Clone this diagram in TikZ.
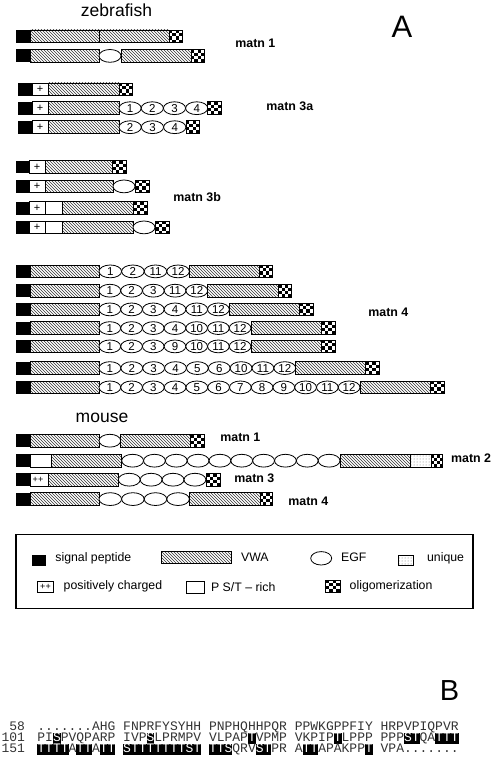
\documentclass[tikz,border=0pt]{standalone}
\usepackage{fontspec}
\setmainfont{Liberation Sans}
\newfontfamily\seqfont{Liberation Mono}
\usetikzlibrary{patterns}
\newcommand\bh{12.8}
\newcommand\dSP[3]{\fill[black] (#1,#3) rectangle (#2,{#3+\bh});}
\newcommand\dVW[3]{\draw[vwa] (#1,#3) rectangle (#2,{#3+\bh});}
\newcommand\dPS[3]{\draw[fill=white] (#1,#3) rectangle (#2,{#3+\bh});}
\newcommand\dPL[4]{\draw[fill=white] (#1,#3) rectangle (#2,{#3+\bh});
  \node[plusf] at ({(#1+#2)/2},{#3+\bh/2}) {#4};}
\newcommand\dUQ[3]{\draw[pattern=dots, pattern color=black!55] (#1,#3) rectangle (#2,{#3+\bh});}
\newcommand\dOL[3]{\fill[white] (#1,#3) rectangle (#2,{#3+\bh});
  \foreach \ci/\cj in {0/0,2/0,1/1,3/1,0/2,2/2,1/3,3/3}{\fill[black] ({#1+(#2-#1)*\ci/4},{#3+\bh*\cj/4}) rectangle ({#1+(#2-#1)*(\ci+1)/4},{#3+\bh*(\cj+1)/4});}
  \draw (#1,#3) rectangle (#2,{#3+\bh});}
\newcommand\dEG[4]{\pgfmathsetmacro\egcx{(#1)+(#2)/2}\pgfmathsetmacro\egrx{(#2)/2}\pgfmathsetmacro\egry{\bh/2}%
  \draw[fill=white] (\egcx,{#3+\bh/2}) ellipse [x radius=\egrx pt, y radius=\egry pt];
  \node[egfnum] at (\egcx,{#3+\bh/2}) {#4};}
\newcommand\egfs[4]{\foreach \eglab [count=\egi] in {#4}{\dEG{#1+(\egi-1)*#2}{#2}{#3}{\eglab}}}
\newcommand\egfn[4]{\foreach \egi in {1,...,#4}{\dEG{#1+(\egi-1)*#2}{#2}{#3}{}}}
\newcommand\hlt[3]{\node[seqhl] at ({37+#2*7.8013},#1) {#3};}
\newcommand\sg[3]{\node[seq] at ({37+#2*7.8013},#1) {#3};}
\begin{document}
\begin{tikzpicture}[x=1pt,y=-1pt,line width=0.8pt,
  vwa/.style={pattern=north west lines, pattern color=black!80},
  plusf/.style={font=\fontsize{11}{11}\selectfont, inner sep=0},
  egfnum/.style={font=\fontsize{11.5}{12}\selectfont, inner sep=0},
  lab/.style={font=\bfseries\fontsize{12.4}{14}\selectfont, anchor=west, inner sep=0},
  leg/.style={font=\fontsize{12.3}{14}\selectfont, anchor=west, inner sep=0},
  ttl/.style={font=\fontsize{17.5}{20}\selectfont, inner sep=0},
  seq/.style={font=\seqfont\fontsize{13}{13}\selectfont, anchor=base west, inner sep=0, text=black!80},
  seqhl/.style={font=\seqfont\fontsize{13}{13}\selectfont, anchor=base west, inner xsep=0, inner ysep=0, fill=black, text=white, text height=8.3pt, text depth=2.4pt}]
\useasboundingbox (0,0) rectangle (492,762);
% titles
\node[ttl] (zf) at (116.5,10) {zebrafish};
\node[font=\fontsize{31}{32}\selectfont, inner sep=0] (A) at (402,26.5) {A};
% zebrafish matn 1
\dSP{16}{30}{30} \dVW{30}{99}{30} \dVW{99}{169}{30} \dOL{169}{182}{30}
\dSP{16}{30}{49.5} \dVW{30}{99}{49.5} \dEG{99}{22}{49.5}{} \dVW{121}{191}{49.5} \dOL{191}{204}{49.5}
\node[lab] (l1) at (235,43.3) {matn 1};
% matn 3a
\dSP{18}{32}{83} \dPL{32}{48}{83}{+} \dVW{48}{119}{83} \dOL{119}{132}{83}
\dSP{18}{32}{101.8} \dPL{32}{48}{101.8}{+} \dVW{48}{119}{101.8} \egfs{119}{22.2}{101.8}{1,2,3,4} \dOL{207.8}{221}{101.8}
\dSP{18}{32}{120.8} \dPL{32}{48}{120.8}{+} \dVW{48}{119}{120.8} \egfs{119}{22.3}{120.8}{2,3,4} \dOL{186}{199}{120.8}
\node[lab] (l3a) at (266,106) {matn 3a};
% matn 3b
\dSP{16}{29}{160.7} \dPL{29}{45}{160.7}{+} \dVW{45}{112}{160.7} \dOL{112}{126}{160.7}
\dSP{16}{29}{180} \dPL{29}{45}{180}{+} \dVW{45}{113}{180} \dEG{113}{22}{180}{} \dOL{135}{149}{180}
\dSP{16}{29}{201.7} \dPL{29}{45}{201.7}{+} \dPS{45}{62}{201.7} \dVW{62}{133}{201.7} \dOL{133}{147}{201.7}
\dSP{16}{29}{221} \dPL{29}{45}{221}{+} \dPS{45}{62}{221} \dVW{62}{133}{221} \dEG{133}{22}{221}{} \dOL{155}{169}{221}
\node[lab] (l3b) at (173,197) {matn 3b};
% matn 4
\dSP{16}{30}{265} \dVW{30}{99}{265} \egfs{99}{22.6}{265}{1,2,11,12} \dVW{189.4}{259.3}{265} \dOL{259.3}{272.7}{265}
\dSP{16}{30}{284.3} \dVW{30}{99}{284.3} \egfs{99}{21.74}{284.3}{1,2,3,11,12} \dVW{207.7}{278.3}{284.3} \dOL{278.3}{291.7}{284.3}
\dSP{16}{30}{303} \dVW{30}{99}{303} \egfs{99}{21.72}{303}{1,2,3,4,11,12} \dVW{229.3}{299.3}{303} \dOL{299.3}{313}{303}
\dSP{16}{30}{321.7} \dVW{30}{99}{321.7} \egfs{99}{21.71}{321.7}{1,2,3,4,10,11,12} \dVW{251}{321}{321.7} \dOL{321}{335}{321.7}
\dSP{16}{30}{340} \dVW{30}{99}{340} \egfs{99}{21.71}{340}{1,2,3,9,10,11,12} \dVW{251}{321}{340} \dOL{321}{335}{340}
\dSP{16}{30}{361.7} \dVW{30}{99}{361.7} \egfs{99}{21.86}{361.7}{1,2,3,4,5,6,10,11,12} \dVW{295.7}{365.7}{361.7} \dOL{365.7}{379}{361.7}
\dSP{16}{30}{381} \dVW{30}{99}{381} \egfs{99}{21.75}{381}{1,2,3,4,5,6,7,8,9,10,11,12} \dVW{360}{430}{381} \dOL{430}{444.3}{381}
\node[lab] (l4) at (368,312.3) {matn 4};
% mouse
\node[ttl] (ms) at (102,417.7) {mouse};
\dSP{16}{30}{434.3} \dVW{30}{99}{434.3} \dEG{99}{21.7}{434.3}{} \dVW{120.7}{190.7}{434.3} \dOL{190.7}{204}{434.3}
\node[lab] (m1) at (220,437.7) {matn 1};
\dSP{16}{30}{454.3} \dPS{30}{51.7}{454.3} \dVW{51.7}{121.7}{454.3} \egfn{121.7}{21.83}{454.3}{10} \dVW{340}{410.7}{454.3} \dUQ{410.7}{431.7}{454.3} \dOL{431.7}{442.3}{454.3}
\node[lab] (m2) at (450.7,458.3) {matn 2};
\dSP{16}{30}{473.3} \dPS{30}{48.3}{473.3} \node[font=\fontsize{9}{9}\selectfont, inner sep=0] at (38,479.7) {++}; \dVW{48.3}{118.3}{473.3} \egfn{118.3}{21.9}{473.3}{4} \dOL{206}{220}{473.3}
\node[lab] (m3) at (234,478.3) {matn 3};
\dSP{16}{30}{492.7} \dVW{30}{99}{492.7} \egfn{99}{22.6}{492.7}{4} \dVW{189.3}{260}{492.7} \dOL{260}{272.7}{492.7}
\node[lab] (m4) at (288,501) {matn 4};
% legend
\draw[line width=1.2pt] (16,534.5) rectangle (473,608.5);
\fill[black] (32.3,555) rectangle (45.7,565.7);
\node[leg] at (55,558.5) {signal peptide};
\draw[vwa] (161,551) rectangle (231.7,563.3);
\node[leg] at (240.7,557.5) {VWA};
\draw (321.2,558.3) ellipse [x radius=10.5pt, y radius=6.7pt];
\node[leg] at (340.7,557.5) {EGF};
\draw[pattern=dots, pattern color=black!55] (398.3,555.7) rectangle (413.3,565);
\node[leg] at (426.7,558.5) {unique};
\draw[fill=white] (37.7,581) rectangle (53.3,592.3);
\node[font=\fontsize{9}{9}\selectfont, inner sep=0] at (45.5,586.7) {++};
\node[leg] at (63.3,586.7) {positively charged};
\draw[fill=white] (186,581) rectangle (204,593.3);
\node[leg] at (210.7,586.7) {P S/T – rich};
\fill[white] (325,580) rectangle (340,592.3);
\foreach \ci/\cj in {0/0,2/0,1/1,3/1,0/2,2/2,1/3,3/3}{\fill[black] ({325+15*\ci/4},{580+12.3*\cj/4}) rectangle ({325+15*(\ci+1)/4},{580+12.3*(\cj+1)/4});}
\draw (325,580) rectangle (340,592.3);
\node[leg] at (349.3,586.7) {oligomerization};
% part B
\node[font=\fontsize{29}{30}\selectfont, inner sep=0] (B) at (449.5,691) {B};
\node[seq, anchor=base east] at (25.4,730.7) {58};
\node[seq, anchor=base east] at (25.4,741.7) {101};
\node[seq, anchor=base east] at (25.4,752.7) {151};
\sg{730.7}{0}{.......AHG FNPRFYSYHH PNPHQHHPQR PPWKGPPFIY HRPVPIQPVR}
\sg{741.7}{0}{PI} \hlt{741.7}{2}{S} \sg{741.7}{3}{PVQPARP IVP} \hlt{741.7}{14}{S} \sg{741.7}{15}{LPRMPV VLPAP} \hlt{741.7}{27}{T}
\sg{741.7}{28}{VPMP VKPIP} \hlt{741.7}{38}{T} \sg{741.7}{39}{LPPP PPP} \hlt{741.7}{47}{ST} \sg{741.7}{49}{QA} \hlt{741.7}{51}{TTT}
\hlt{752.7}{0}{TTTT} \sg{752.7}{4}{A} \hlt{752.7}{5}{TT} \sg{752.7}{7}{A} \hlt{752.7}{8}{TT} \hlt{752.7}{11}{STTTTTTTST}
\hlt{752.7}{22}{TTS} \sg{752.7}{25}{QRV} \hlt{752.7}{28}{ST} \sg{752.7}{30}{PR A} \hlt{752.7}{34}{TT} \sg{752.7}{36}{APAKPP} \hlt{752.7}{42}{T} \sg{752.7}{44}{VPA.......}
\end{tikzpicture}
\end{document}
